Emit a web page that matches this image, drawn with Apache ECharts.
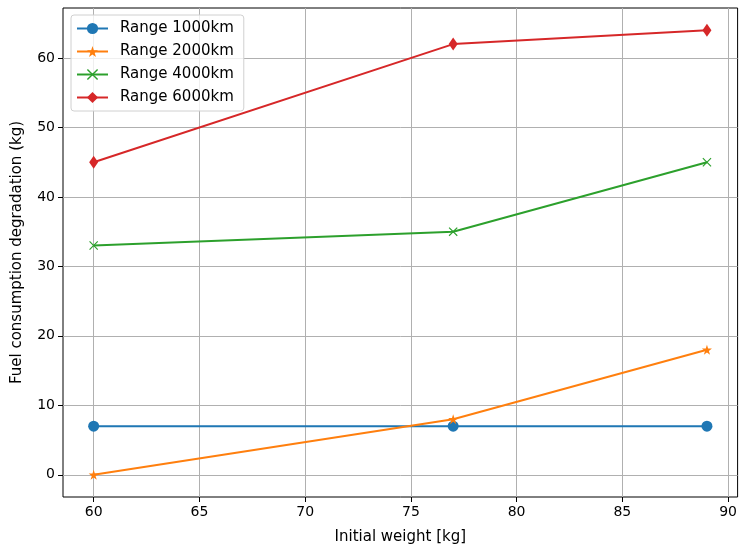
<!DOCTYPE html>
<html><head><meta charset="utf-8">
<script src="https://cdn.jsdelivr.net/npm/echarts@6/dist/echarts.min.js"></script>
<style>html,body{margin:0;padding:0;background:#fff}#c{width:740px;height:550px}</style>
</head><body><div id="c"></div>
<script>
const weights = [60, 77, 89];
const range1000 = [7, 7, 7];
const range2000 = [0, 8, 18];
const range4000 = [33, 35, 45];
const range6000 = [45, 62, 64];
const seriesNames = ['Range 1000km', 'Range 2000km', 'Range 4000km', 'Range 6000km'];
const xTicks = [60, 65, 70, 75, 80, 85, 90];
const yTicks = [0, 10, 20, 30, 40, 50, 60];

const colors = ['#1f77b4', '#ff7f0e', '#2ca02c', '#d62728'];
const starPath = 'path://M0,-1 L0.2245,-0.309 L0.951,-0.309 L0.363,0.118 L0.588,0.809 L0,0.382 L-0.588,0.809 L-0.363,0.118 L-0.951,-0.309 L-0.2245,-0.309 Z';
const xPath = 'path://M-1,-0.82 L-0.82,-1 L0,-0.18 L0.82,-1 L1,-0.82 L0.18,0 L1,0.82 L0.82,1 L0,0.18 L-0.82,1 L-1,0.82 L-0.18,0 Z';
const symbols = ['circle', starPath, xPath, 'diamond'];
const sizes = [11, 10, 9, [9, 13]];
const allData = [range1000, range2000, range4000, range6000];
const font = 'DejaVu Sans';

const chart = echarts.init(document.getElementById('c'), null, {renderer: 'canvas'});
chart.setOption({
  animation: false,
  color: colors,
  textStyle: {fontFamily: font},
  grid: {left: 63, right: 2, top: 8, bottom: 49, show: true, borderColor: '#000', borderWidth: 1, containLabel: false},
  legend: {
    left: 71, top: 15, orient: 'vertical', itemWidth: 31, itemHeight: 14, itemGap: 8,
    padding: [6, 10, 6, 5], borderColor: '#d0d0d0', borderWidth: 1, borderRadius: 3,
    backgroundColor: 'rgba(255,255,255,0.8)',
    textStyle: {fontFamily: font, fontSize: 15, color: '#000', lineHeight: 14, padding: [0, 0, 0, 7]},
    data: seriesNames
  },
  xAxis: {
    type: 'value', min: 58.55, max: 90.45,
    name: 'Initial weight [kg]', nameLocation: 'middle', nameGap: 33,
    nameTextStyle: {fontFamily: font, fontSize: 15, color: '#000'},
    axisLine: {show: false, onZero: false},
    axisTick: {show: true, length: 5, lineStyle: {color: '#000'}, customValues: xTicks},
    axisLabel: {customValues: xTicks, fontFamily: font, fontSize: 14, color: '#000', margin: 8},
    splitLine: {show: true, lineStyle: {color: '#b0b0b0', width: 1}}
  },
  yAxis: {
    type: 'value', min: -3.2, max: 67.2,
    name: 'Fuel consumption degradation (kg)', nameLocation: 'middle', nameGap: 38,
    nameTextStyle: {fontFamily: font, fontSize: 15, color: '#000'},
    axisLine: {show: false, onZero: false},
    axisTick: {show: true, length: 5, lineStyle: {color: '#000'}, customValues: yTicks},
    axisLabel: {customValues: yTicks, fontFamily: font, fontSize: 14, color: '#000', margin: 8},
    splitLine: {show: true, lineStyle: {color: '#b0b0b0', width: 1}}
  },
  series: seriesNames.map((n, i) => ({
    name: n, type: 'line',
    data: weights.map((w, j) => [w, allData[i][j]]),
    symbol: symbols[i], symbolSize: sizes[i], showSymbol: true,
    lineStyle: {width: 2, color: colors[i]},
    itemStyle: {color: colors[i]},
    z: 3 + i
  }))
});
</script></body></html>
